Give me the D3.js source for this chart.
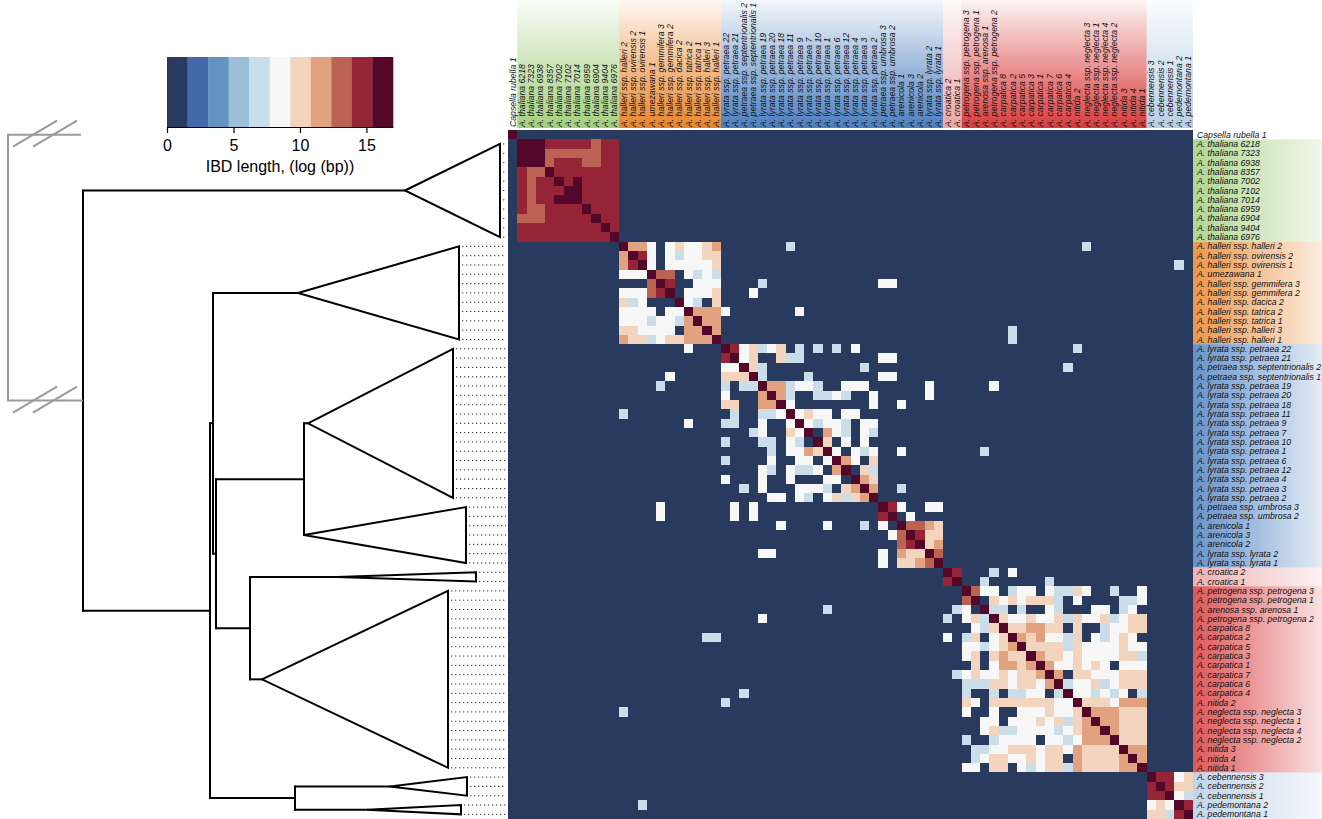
<!DOCTYPE html>
<html>
<head>
<meta charset="utf-8">
<script src="https://cdn.jsdelivr.net/npm/d3@7"></script>
<style>
  body { margin: 0; background: #fff; }
  svg { display: block; font-family: "Liberation Sans", Arial, Helvetica, sans-serif; }
</style>
</head>
<body>
<svg id="chart" width="1322" height="819"></svg>
<script>
// sample order (rows and columns of the heatmap)
var sampleNames = [
  "Capsella rubella 1",
  "A. thaliana 6218", "A. thaliana 7323", "A. thaliana 6938", "A. thaliana 8357", "A. thaliana 7002",
  "A. thaliana 7102", "A. thaliana 7014", "A. thaliana 6959", "A. thaliana 6904", "A. thaliana 9404", "A. thaliana 6976",
  "A. halleri ssp. halleri 2", "A. halleri ssp. ovirensis 2", "A. halleri ssp. ovirensis 1", "A. umezawana 1",
  "A. halleri ssp. gemmifera 3", "A. halleri ssp. gemmifera 2", "A. halleri ssp. dacica 2", "A. halleri ssp. tatrica 2",
  "A. halleri ssp. tatrica 1", "A. halleri ssp. halleri 3", "A. halleri ssp. halleri 1",
  "A. lyrata ssp. petraea 22", "A. lyrata ssp. petraea 21", "A. petraea ssp. septentrionalis 2",
  "A. petraea ssp. septentrionalis 1", "A. lyrata ssp. petraea 19", "A. lyrata ssp. petraea 20", "A. lyrata ssp. petraea 18",
  "A. lyrata ssp. petraea 11", "A. lyrata ssp. petraea 9", "A. lyrata ssp. petraea 7", "A. lyrata ssp. petraea 10",
  "A. lyrata ssp. petraea 1", "A. lyrata ssp. petraea 6", "A. lyrata ssp. petraea 12", "A. lyrata ssp. petraea 4",
  "A. lyrata ssp. petraea 3", "A. lyrata ssp. petraea 2", "A. petraea ssp. umbrosa 3", "A. petraea ssp. umbrosa 2",
  "A. arenicola 1", "A. arenicola 3", "A. arenicola 2", "A. lyrata ssp. lyrata 2", "A. lyrata ssp. lyrata 1",
  "A. croatica 2", "A. croatica 1",
  "A. petrogena ssp. petrogena 3", "A. petrogena ssp. petrogena 1", "A. arenosa ssp. arenosa 1", "A. petrogena ssp. petrogena 2",
  "A. carpatica 8", "A. carpatica 2", "A. carpatica 5", "A. carpatica 3", "A. carpatica 1", "A. carpatica 7",
  "A. carpatica 6", "A. carpatica 4", "A. nitida 2", "A. neglecta ssp. neglecta 3", "A. neglecta ssp. neglecta 1",
  "A. neglecta ssp. neglecta 4", "A. neglecta ssp. neglecta 2", "A. nitida 3", "A. nitida 4", "A. nitida 1",
  "A. cebennensis 3", "A. cebennensis 2", "A. cebennensis 1", "A. pedemontana 2", "A. pedemontana 1"
];

// label background groups: first/last sample index
var groupNames = ["thaliana", "halleri", "lyrata", "croatica", "arenosa", "cebennensis"];
var groupFirst = [1, 12, 23, 47, 49, 69];
var groupLast = [11, 22, 46, 48, 68, 73];
var groupColors = ["#a3cf7e", "#e8852c", "#4b7fc0", "#eba6a6", "#d93b3b", "#b7cee6"];

// colour bins of the IBD scale (log bp), 0..17
var binColors = ["#283a5e", "#4469aa", "#6393bf", "#9bbfd9", "#cadeea", "#f7f7f7",
                 "#f2d4bf", "#e2a17f", "#bb6352", "#952536", "#530729"];
var colorTicks = [0, 5, 10, 15];

// IBD length per pair, upper triangle ("col:value"), blank = 0
var ibdUpper = [
  "0:16.5",
  "1:16.5 2:16.5 3:16.5 4:14.7 5:14.7 6:14.7 7:14.7 8:14.7 9:13.1 10:14.7 11:14.7",
  "2:16.5 3:16.5 4:13.1 5:13.1 6:13.1 7:13.1 8:13.1 9:13.1 10:14.7 11:14.7",
  "3:16.5 4:13.1 5:14.7 6:14.7 7:14.7 8:13.1 9:13.1 10:14.7 11:14.7",
  "4:16.5 5:14.7 6:14.7 7:14.7 8:14.7 9:14.7 10:14.7 11:14.7",
  "5:16.5 6:14.7 7:16.5 8:14.7 9:14.7 10:14.7 11:14.7",
  "6:16.5 7:16.5 8:14.7 9:14.7 10:14.7 11:14.7",
  "7:16.5 8:14.7 9:14.7 10:14.7 11:14.7",
  "8:16.5 9:14.7 10:14.7 11:14.7",
  "9:16.5 10:14.7 11:14.7",
  "10:16.5 11:14.7",
  "11:16.5",
  "12:16.5 13:11.6 14:11.6 15:8.5 17:8.5 18:10 19:8.5 20:8.5 21:10 22:11.6 30:7 62:7",
  "13:16.5 14:14.7 15:8.5 17:8.5 18:7 19:8.5 20:8.5 21:10 22:10",
  "14:16.5 15:8.5 17:8.5 18:8.5 19:8.5 20:8.5 21:8.5 22:10 72:7",
  "15:16.5 16:13.1 17:13.1 19:8.5 20:7 21:8.5 22:7",
  "16:16.5 17:14.7 20:8.5 21:8.5 22:8.5 27:7 40:8.5 41:8.5",
  "17:16.5 19:8.5 20:8.5 21:8.5 22:10 26:8.5",
  "18:16.5 19:8.5 20:7 22:10",
  "19:16.5 20:11.6 21:11.6 22:11.6 23:8.5 31:8.5",
  "20:16.5 21:11.6 22:11.6",
  "21:16.5 22:11.6 54:7",
  "22:16.5 54:7",
  "23:16.5 24:14.7 25:8.5 26:10 27:7 28:8.5 29:10 31:7 33:7 35:7 37:8.5 61:7",
  "24:16.5 25:8.5 26:10 29:10 30:7 31:7 40:8.5 41:8.5",
  "25:16.5 26:10 27:7 38:7 60:7",
  "26:16.5 27:7 32:7 40:8.5 41:8.5",
  "27:16.5 28:11.6 29:11.6 30:7 31:8.5 32:8.5 33:7 36:8.5 37:8.5 38:8.5 45:8.5 52:8.5",
  "28:16.5 29:11.6 30:7 33:7 34:7 35:8.5 36:7 39:8.5 45:8.5",
  "29:16.5 30:8.5 39:8.5 42:8.5",
  "30:16.5 31:8.5 32:10 33:8.5 34:8.5 36:8.5 37:8.5",
  "31:16.5 32:8.5 33:7 34:8.5 35:8.5 36:7 38:8.5 39:8.5",
  "32:16.5 34:11.6 35:8.5 36:7 38:8.5 39:7",
  "33:16.5 34:10 36:8.5 38:8.5",
  "34:16.5 35:8.5 37:8.5 38:7 39:8.5 42:8.5 51:7",
  "35:16.5 36:11.6 37:8.5 39:10",
  "36:16.5 38:10 39:7",
  "37:16.5 38:11.6 39:10",
  "38:16.5 39:11.6 42:7",
  "39:16.5",
  "40:16.5 41:14.7 42:8.5 45:8.5 46:8.5",
  "41:16.5 43:8.5",
  "42:16.5 43:13.1 44:13.1 45:11.6 46:10",
  "43:16.5 44:14.7 45:10 46:10",
  "44:16.5 45:10 46:11.6",
  "45:16.5 46:13.1",
  "46:16.5",
  "47:16.5 48:14.7 52:7 54:8.5",
  "48:16.5 51:7 58:7",
  "49:16.5 50:13.1 51:8.5 52:8.5 54:7 55:8.5 56:8.5 58:8.5 59:7 60:7 61:10 62:8.5 65:7 68:8.5",
  "50:16.5 52:10 53:8.5 54:10 55:8.5 56:10 57:10 58:10 59:7 61:8.5 66:7 67:7 68:8.5",
  "51:16.5 52:7 53:7 55:7 58:8.5 59:7 63:8.5 64:8.5 66:7 67:8.5",
  "52:16.5 53:10 54:8.5 55:8.5 56:10 57:8.5 58:8.5 59:10 60:7 61:10 62:8.5 63:8.5 64:10 65:7 66:8.5 67:10 68:10",
  "53:16.5 54:10 55:10 56:11.6 57:11.6 58:10 59:10 61:10 64:7 65:8.5 66:8.5 67:10 68:10",
  "54:16.5 55:11.6 56:10 57:11.6 58:8.5 59:8.5 60:7 61:10 63:8.5 64:7 65:8.5 66:10 67:8.5",
  "55:16.5 56:10 57:10 58:10 59:10 60:7 61:10 62:8.5 63:8.5 64:8.5 65:8.5 66:10 67:8.5 68:8.5",
  "56:16.5 57:11.6 58:10 59:10 60:8.5 61:10 62:8.5 63:8.5 64:8.5 65:8.5 66:10 67:10 68:7",
  "57:16.5 58:11.6 59:8.5 60:8.5 61:10 62:8.5 63:10 64:8.5 66:8.5 67:8.5 68:8.5",
  "58:16.5 59:11.6 61:10 62:10 63:8.5 64:8.5 65:8.5 66:10 67:10 68:10",
  "59:16.5 60:7 61:8.5 62:8.5 63:10 64:7 65:8.5 66:10 67:10 68:10",
  "60:16.5 61:8.5 62:8.5 63:7 64:8.5 65:7 66:8.5 68:7",
  "61:16.5 62:10 63:10 64:10 65:8.5 66:11.6 67:11.6 68:11.6",
  "62:16.5 63:11.6 64:11.6 65:11.6 66:10 67:10 68:10",
  "63:16.5 64:11.6 65:11.6 66:10 67:10 68:10",
  "64:16.5 65:11.6 66:10 67:10 68:10",
  "65:16.5 66:10 67:10 68:10",
  "66:16.5 67:11.6 68:11.6",
  "67:16.5 68:11.6",
  "68:16.5",
  "69:16.5 70:14.7 71:14.7 72:8.5 73:10",
  "70:16.5 71:14.7 72:10 73:10",
  "71:16.5 72:8.5 73:7",
  "72:16.5 73:14.7",
  "73:16.5"
];

// collapsed clades of the tree (branch depths in tree units)
var cladeNames = ["thaliana", "halleri", "petraea", "umbrosa", "croatica", "arenosa", "cebennensis", "pedemontana"];
var cladeFirst = [1, 12, 23, 40, 47, 49, 69, 72];
var cladeLast = [11, 22, 39, 46, 48, 68, 71, 73];
var cladeApex = [322, 215, 225, 221, 254, 179, 307, 284];
var cladeTip = [417, 376, 370, 383, 393, 365, 384, 378];

// internal nodes
var nodeNames = ["root", "n1", "n2", "n3", "n4", "n5", "n6"];
var nodeDepth = [0, 127, 130, 133, 221, 167, 212];
var nodeKids = [["thaliana", "n1"], ["n2", "n6"], ["halleri", "n3"], ["n4", "n5"],
                ["petraea", "umbrosa"], ["croatica", "arenosa"], ["cebennensis", "pedemontana"]];
var outgroupDepth = -75, outgroupCut = -2;

var svg = d3.select("#chart");
var n = sampleNames.length;

var x = d3.scaleBand().domain(d3.range(n)).range([508, 1193]);
var y = d3.scaleBand().domain(d3.range(n)).range([130, 819]);
var color = d3.scaleQuantize().domain([0, 17]).range(binColors);
var depth = d3.scaleLinear().domain([0, 425]).range([83, 508]);

// whole-pixel cell edges so neighbouring cells meet without seams
var xEdge = function(j) { return Math.round(j < n ? x(j) : x.range()[1]); };
var yEdge = function(i) { return Math.round(i < n ? y(i) : y.range()[1]); };

// full matrix from the upper triangle
var matrix = d3.range(n).map(function() { return d3.range(n).map(function() { return 0; }); });
ibdUpper.forEach(function(row, i) {
  row.split(" ").forEach(function(tok) {
    var p = tok.split(":"), j = +p[0], v = +p[1];
    matrix[i][j] = v; matrix[j][i] = v;
  });
});
var cells = [];
matrix.forEach(function(r, i) { r.forEach(function(v, j) { cells.push({i: i, j: j, v: v}); }); });

// gradients for the label backgrounds
var defs = svg.append("defs");
groupNames.forEach(function(g, k) {
  var gv = defs.append("linearGradient").attr("id", "gv-" + g)
      .attr("x1", 0).attr("y1", 1).attr("x2", 0).attr("y2", 0);
  gv.append("stop").attr("offset", 0).attr("stop-color", groupColors[k]).attr("stop-opacity", 1);
  gv.append("stop").attr("offset", 1).attr("stop-color", groupColors[k]).attr("stop-opacity", 0.06);
  var gh = defs.append("linearGradient").attr("id", "gh-" + g)
      .attr("x1", 0).attr("y1", 0).attr("x2", 1).attr("y2", 0);
  gh.append("stop").attr("offset", 0).attr("stop-color", groupColors[k]).attr("stop-opacity", 0.85);
  gh.append("stop").attr("offset", 1).attr("stop-color", groupColors[k]).attr("stop-opacity", 0.15);
});

svg.append("g").selectAll("rect")
    .data(groupNames)
  .enter().append("rect")
    .attr("x", function(d, k) { return x(groupFirst[k]); })
    .attr("y", 0)
    .attr("width", function(d, k) { return x(groupLast[k]) + x.bandwidth() - x(groupFirst[k]); })
    .attr("height", 128)
    .attr("fill", function(d) { return "url(#gv-" + d + ")"; });

svg.append("g").selectAll("rect")
    .data(groupNames)
  .enter().append("rect")
    .attr("x", 1193)
    .attr("y", function(d, k) { return y(groupFirst[k]); })
    .attr("width", 129)
    .attr("height", function(d, k) { return y(groupLast[k]) + y.bandwidth() - y(groupFirst[k]); })
    .attr("fill", function(d) { return "url(#gh-" + d + ")"; });

// heatmap
svg.append("g")
    .attr("shape-rendering", "crispEdges")
  .selectAll("rect")
    .data(cells)
  .enter().append("rect")
    .attr("x", function(d) { return xEdge(d.j); })
    .attr("y", function(d) { return yEdge(d.i); })
    .attr("width", function(d) { return xEdge(d.j + 1) - xEdge(d.j); })
    .attr("height", function(d) { return yEdge(d.i + 1) - yEdge(d.i); })
    .attr("fill", function(d) { return color(d.v); });

// column labels
svg.append("g").selectAll("text")
    .data(sampleNames)
  .enter().append("text")
    .attr("transform", function(d, i) { return "translate(" + (x(i) + x.bandwidth() / 2) + ",127) rotate(-90)"; })
    .attr("dy", "0.35em")
    .style("font-size", "8.7px").style("font-style", "italic").attr("fill", "#111")
    .text(function(d) { return d; });

// row labels
svg.append("g").selectAll("text")
    .data(sampleNames)
  .enter().append("text")
    .attr("x", 1197)
    .attr("y", function(d, i) { return y(i) + y.bandwidth() / 2; })
    .attr("dy", "0.35em")
    .style("font-size", "8.7px").style("font-style", "italic").attr("fill", "#111")
    .text(function(d) { return d; });

// tree
var rowMid = function(r) { return y(r) + y.bandwidth() / 2; };
var info = {};
cladeNames.forEach(function(c, k) {
  info[c] = {start: cladeApex[k], y: (rowMid(cladeFirst[k]) + rowMid(cladeLast[k])) / 2};
});
function nodeY(name) {
  if (info[name]) return info[name].y;
  var k = nodeNames.indexOf(name);
  var yy = (nodeY(nodeKids[k][0]) + nodeY(nodeKids[k][1])) / 2;
  info[name] = {start: nodeDepth[k], y: yy};
  return yy;
}
nodeNames.forEach(nodeY);

var segs = [];
nodeNames.forEach(function(nm, k) {
  var a = info[nodeKids[k][0]], b = info[nodeKids[k][1]];
  segs.push([depth(nodeDepth[k]), a.y, depth(nodeDepth[k]), b.y]);
  segs.push([depth(nodeDepth[k]), a.y, depth(a.start), a.y]);
  segs.push([depth(nodeDepth[k]), b.y, depth(b.start), b.y]);
});

var tree = svg.append("g").attr("fill", "none");
tree.selectAll("line.branch")
    .data(segs)
  .enter().append("line")
    .attr("class", "branch")
    .attr("x1", function(d) { return d[0]; }).attr("y1", function(d) { return d[1]; })
    .attr("x2", function(d) { return d[2]; }).attr("y2", function(d) { return d[3]; })
    .attr("stroke", "#000").attr("stroke-width", 2).attr("stroke-linecap", "square");

tree.selectAll("path.clade")
    .data(cladeNames)
  .enter().append("path")
    .attr("class", "clade")
    .attr("d", function(c, k) {
      var ax = depth(cladeApex[k]), bx = depth(cladeTip[k]);
      return "M" + ax + "," + info[c].y + "L" + bx + "," + rowMid(cladeFirst[k]) +
             "L" + bx + "," + rowMid(cladeLast[k]) + "Z";
    })
    .attr("fill", "#fff").attr("stroke", "#000").attr("stroke-width", 2).attr("stroke-linejoin", "miter");

// dotted leaders from clade tips to the heatmap
var leaders = [];
cladeNames.forEach(function(c, k) {
  d3.range(cladeFirst[k], cladeLast[k] + 1).forEach(function(r) { leaders.push({r: r, x0: depth(cladeTip[k]) + 3}); });
});
tree.selectAll("line.leader")
    .data(leaders)
  .enter().append("line")
    .attr("class", "leader")
    .attr("x1", function(d) { return d.x0; }).attr("x2", 506)
    .attr("y1", function(d) { return rowMid(d.r); }).attr("y2", function(d) { return rowMid(d.r); })
    .attr("stroke", "#333").attr("stroke-width", 1).attr("stroke-dasharray", "1.3,2.7");

// outgroup (Capsella), drawn broken in grey
var rootY = info.root.y, capY = rowMid(0);
var og = svg.append("g").attr("stroke", "#9a9a9a").attr("stroke-width", 2).attr("fill", "none");
og.append("path")
    .attr("d", "M" + depth(outgroupCut) + "," + capY + "H" + depth(outgroupDepth) + "V" + rootY + "H" + depth(0));
[capY, rootY].forEach(function(yy) {
  [0, 20].forEach(function(off) {
    og.append("line")
        .attr("x1", depth(outgroupDepth) + 5 + off).attr("y1", yy + 12)
        .attr("x2", depth(outgroupDepth) + 49 + off).attr("y2", yy - 14);
  });
});

// colour bar
var cb = d3.scaleLinear().domain([0, 17]).range([167, 393]);
var step = 17 / binColors.length;
var bar = svg.append("g");
bar.selectAll("rect")
    .data(binColors)
  .enter().append("rect")
    .attr("x", function(d, k) { return cb(k * step); })
    .attr("y", 57)
    .attr("width", cb(step) - cb(0) + 0.3)
    .attr("height", 70)
    .attr("fill", function(d) { return d; });

var axis = bar.append("g")
    .attr("transform", "translate(0,127)")
    .call(d3.axisBottom(cb).tickValues(colorTicks).tickSize(6).tickSizeOuter(0).tickPadding(7));
axis.selectAll("text").style("font-size", "16px").attr("fill", "#000")
    .style("font-family", "'Liberation Sans', Arial, sans-serif");
axis.selectAll("line, path").attr("stroke", "#000").attr("stroke-width", 1.2);

bar.append("text")
    .attr("x", 280).attr("y", 172)
    .attr("text-anchor", "middle")
    .style("font-size", "16px")
    .text("IBD length, (log (bp))");
</script>
</body>
</html>
